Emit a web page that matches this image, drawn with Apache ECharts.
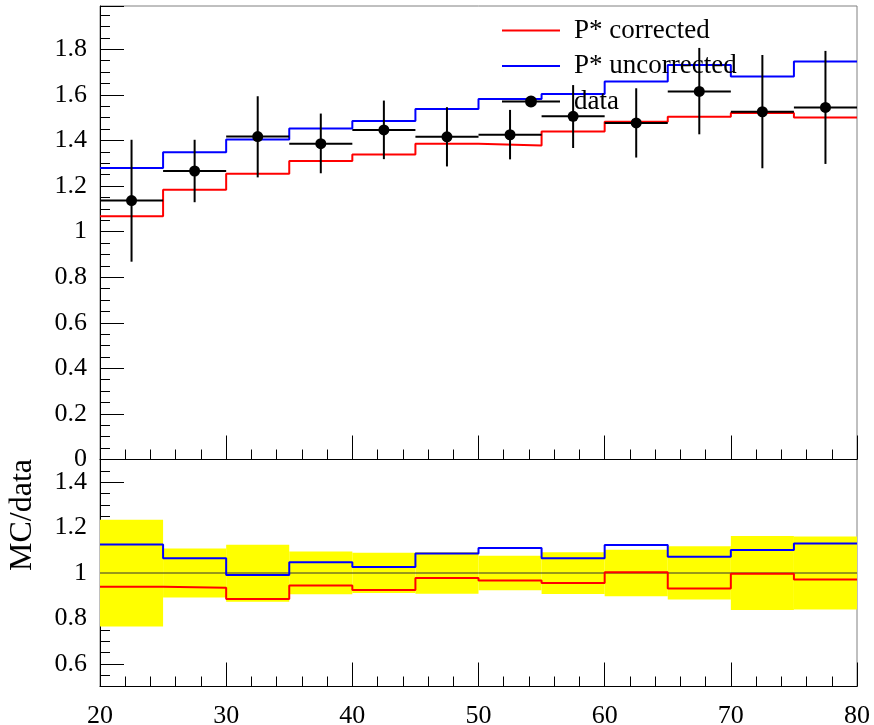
<!DOCTYPE html>
<html><head><meta charset="utf-8">
<script src="https://cdn.jsdelivr.net/npm/echarts@6/dist/echarts.min.js"></script>
<style>html,body{margin:0;padding:0;background:#fff}#c{width:874px;height:725px}</style>
</head><body><div id="c"></div>
<script>
// ---- data ----
const binEdges = [20,25,30,35,40,45,50,55,60,65,70,75,80];
const dataX = [22.5,27.5,32.5,37.5,42.5,47.5,52.5,57.5,62.5,67.5,72.5,77.5];
const dataY = [1.136,1.266,1.417,1.386,1.446,1.416,1.425,1.506,1.477,1.615,1.526,1.545];
const dataErrUp = [0.267,0.137,0.177,0.132,0.129,0.130,0.109,0.137,0.152,0.191,0.249,0.248];
const dataErrDown = [0.268,0.137,0.179,0.130,0.128,0.130,0.108,0.139,0.152,0.188,0.248,0.248];
const corrected = [1.067,1.184,1.254,1.310,1.338,1.385,1.378,1.439,1.482,1.504,1.521,1.501];
const uncorrected = [1.279,1.348,1.404,1.452,1.485,1.538,1.582,1.604,1.659,1.731,1.681,1.746];
const xTicks = [20,30,40,50,60,70,80];
const topYTicks = [0,0.2,0.4,0.6,0.8,1,1.2,1.4,1.6,1.8];
const ratioYTicks = [0.6,0.8,1,1.2,1.4];
const names = ['P* corrected','P* uncorrected','data'];

// ---- helpers ----
function steps(vals){
  const pts = vals.map((v,i)=>[binEdges[i], v]);
  pts.push([binEdges[binEdges.length-1], vals[vals.length-1]]);
  return pts;
}
const ratioCorr = corrected.map((v,i)=>v/dataY[i]);
const ratioUnc = uncorrected.map((v,i)=>v/dataY[i]);
const band = dataY.map((v,i)=>[binEdges[i], binEdges[i+1], 1-dataErrDown[i]/v, 1+dataErrUp[i]/v]);

const FONT = '"Liberation Serif", "DejaVu Serif", serif';
const BLACK = '#000';
const LINE_ICON = 'path://M0,5L58,5L58,7L0,7Z M0,0L0.01,0L0.01,12L0,12Z';
const DATA_ICON = 'path://M0,5L58,5L58,7L0,7Z M35,6A6,6,0,1,1,23,6A6,6,0,1,1,35,6Z';

function xAxisDef(grid, labels){
  return {
    type:'value', gridIndex:grid, min:20, max:80, interval:10,
    axisLine:{show:true, lineStyle:{color:BLACK, width:1}},
    axisTick:{show:true, inside:true, length:24, lineStyle:{color:BLACK, width:1}},
    minorTick:{show:true, splitNumber:5, length:10, lineStyle:{color:BLACK, width:1}},
    splitLine:{show:false},
    axisLabel:{show:labels, fontFamily:FONT, fontSize:26, color:BLACK, margin:17}
  };
}

const chart = echarts.init(document.getElementById('c'), null, {renderer:'canvas'});
chart.setOption({
  animation:false,
  backgroundColor:'#fff',
  grid:[
    {left:100, right:17, top:6, height:453.5, show:true, borderColor:'#808080', borderWidth:1,
     backgroundColor:'transparent', containLabel:false, outerBoundsMode:'none'},
    {left:100, right:17, top:459.5, height:227, show:true, borderColor:'#808080', borderWidth:1,
     backgroundColor:'transparent', containLabel:false, outerBoundsMode:'none'}
  ],
  xAxis:[ xAxisDef(0,false), xAxisDef(1,true) ],
  yAxis:[
    { // top panel major ticks + labels
      type:'value', gridIndex:0, position:'left', min:0, max:1.99, interval:0.2,
      axisLine:{show:true, lineStyle:{color:BLACK}},
      axisTick:{show:true, inside:true, length:24, lineStyle:{color:BLACK}},
      splitLine:{show:false},
      axisLabel:{fontFamily:FONT, fontSize:26, color:BLACK, margin:13,
        formatter:v=> topYTicks.some(t=>Math.abs(t-v)<1e-6) ? String(+v.toFixed(2)) : ''}
    },
    { // top panel minor ticks
      type:'value', gridIndex:0, position:'left', min:0, max:1.99, interval:0.05,
      axisLine:{show:false}, axisLabel:{show:false}, splitLine:{show:false},
      axisTick:{show:true, inside:true, length:10, lineStyle:{color:BLACK}}
    },
    { // ratio panel minor ticks
      type:'value', gridIndex:1, position:'left', min:0.5, max:1.5, interval:0.05,
      axisLine:{show:true, lineStyle:{color:BLACK}}, axisLabel:{show:false}, splitLine:{show:false},
      axisTick:{show:true, inside:true, length:10, lineStyle:{color:BLACK}}
    },
    { // ratio panel major ticks + labels
      type:'value', gridIndex:1, position:'left', min:0.5, max:1.5, interval:0.05,
      axisLine:{show:false}, splitLine:{show:false},
      axisTick:{show:true, inside:true, length:24, customValues:ratioYTicks, lineStyle:{color:BLACK}},
      axisLabel:{fontFamily:FONT, fontSize:26, color:BLACK, margin:13, customValues:ratioYTicks,
        formatter:v=>String(+v.toFixed(2))}
    }
  ],
  legend:{
    orient:'vertical', left:502, top:17, padding:0, itemGap:8.5,
    itemWidth:58, itemHeight:12,
    textStyle:{fontFamily:FONT, fontSize:27, color:BLACK, lineHeight:26, padding:[0,0,0,9]},
    data:[
      {name:names[0], icon:LINE_ICON, itemStyle:{color:'#ff0000'}},
      {name:names[1], icon:LINE_ICON, itemStyle:{color:'#0000ff'}},
      {name:names[2], icon:DATA_ICON, itemStyle:{color:BLACK}}
    ]
  },
  graphic:[{
    type:'text', left:7, top:459, rotation:Math.PI/2,
    style:{text:'MC/data', font:'32px '+FONT, fill:BLACK}
  }],
  series:[
    {name:names[0], type:'line', xAxisIndex:0, yAxisIndex:0, step:'end', symbol:'none', showSymbol:false,
     data:steps(corrected), lineStyle:{color:'#ff0000', width:2}, itemStyle:{color:'#ff0000'}, z:2},
    {name:names[1], type:'line', xAxisIndex:0, yAxisIndex:0, step:'end', symbol:'none', showSymbol:false,
     data:steps(uncorrected), lineStyle:{color:'#0000ff', width:2}, itemStyle:{color:'#0000ff'}, z:2},
    {name:names[2], type:'custom', xAxisIndex:0, yAxisIndex:0, z:5,
     itemStyle:{color:BLACK},
     data:dataX.map((x,i)=>[x, dataY[i], dataErrDown[i], dataErrUp[i], binEdges[i], binEdges[i+1]]),
     encode:{x:0, y:1},
     renderItem:function(params, api){
       const x=api.value(0), y=api.value(1), lo=api.value(2), hi=api.value(3), x0=api.value(4), x1=api.value(5);
       const c=api.coord([x,y]), pl=api.coord([x0,y]), pr=api.coord([x1,y]);
       const pb=api.coord([x,y-lo]), pt=api.coord([x,y+hi]);
       const st={stroke:BLACK, lineWidth:2};
       return {type:'group', children:[
         {type:'line', shape:{x1:pl[0],y1:pl[1],x2:pr[0],y2:pr[1]}, style:st},
         {type:'line', shape:{x1:pt[0],y1:pt[1],x2:pb[0],y2:pb[1]}, style:st},
         {type:'circle', shape:{cx:c[0],cy:c[1],r:5.5}, style:{fill:BLACK}}
       ]};
     }},
    {name:'band', type:'custom', xAxisIndex:1, yAxisIndex:2, z:1,
     data:band, encode:{x:[0,1], y:[2,3]},
     renderItem:function(params, api){
       const p0=api.coord([api.value(0), api.value(3)]), p1=api.coord([api.value(1), api.value(2)]);
       return {type:'rect', shape:{x:p0[0], y:p0[1], width:p1[0]-p0[0], height:p1[1]-p0[1]}, style:{fill:'#ffff00'}};
     }},
    {name:'unity', type:'line', xAxisIndex:1, yAxisIndex:2, symbol:'none', z:2,
     data:[[20,1],[80,1]], lineStyle:{color:'#333', width:1}},
    {name:'ratio corrected', type:'line', xAxisIndex:1, yAxisIndex:2, step:'end', symbol:'none', z:3,
     data:steps(ratioCorr), lineStyle:{color:'#ff0000', width:2}},
    {name:'ratio uncorrected', type:'line', xAxisIndex:1, yAxisIndex:2, step:'end', symbol:'none', z:3,
     data:steps(ratioUnc), lineStyle:{color:'#0000ff', width:2}}
  ]
});
</script></body></html>
